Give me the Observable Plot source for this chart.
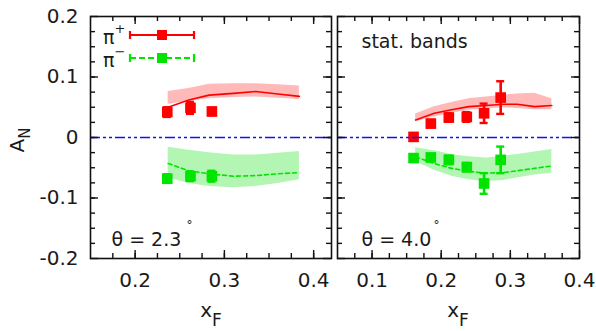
<!DOCTYPE html>
<html><head><meta charset="utf-8">
<script src="https://cdn.jsdelivr.net/npm/d3@7"></script>
<script src="https://cdn.jsdelivr.net/npm/@observablehq/plot@0.6"></script>
<style>
body{margin:0;background:#fff;}
#wrap{position:relative;width:596px;height:331px;font-family:"DejaVu Sans",sans-serif;overflow:hidden;}
#wrap svg{position:absolute;top:0;}
</style></head><body><div id="wrap"></div>
<script>
// ---------- data: panel θ = 2.3° ----------
const L_ptX   = [0.236, 0.262, 0.286];
const L_pipY  = [0.042, 0.049, 0.043];
const L_pipE  = [0.008, 0.010, 0.006];
const L_pimY  = [-0.068, -0.064, -0.064];
const L_pimE  = [0.007, 0.008, 0.009];
const L_cX      = [0.237, 0.26, 0.283, 0.31, 0.335, 0.36, 0.384];
const L_pipLine = [0.050, 0.062, 0.070, 0.073, 0.076, 0.072, 0.068];
const L_pipHi   = [0.076, 0.081, 0.088, 0.089, 0.089, 0.087, 0.085];
const L_pipLo   = [0.055, 0.060, 0.064, 0.066, 0.067, 0.065, 0.063];
const L_pimLine = [-0.043, -0.055, -0.060, -0.064, -0.063, -0.060, -0.058];
const L_pimHi   = [-0.016, -0.021, -0.025, -0.029, -0.029, -0.026, -0.023];
const L_pimLo   = [-0.066, -0.076, -0.081, -0.083, -0.081, -0.076, -0.070];
// ---------- data: panel θ = 4.0° ----------
const R_ptX   = [0.160, 0.185, 0.211, 0.237, 0.262, 0.286];
const R_pipY  = [0.001, 0.023, 0.033, 0.034, 0.040, 0.066];
const R_pipE  = [0.005, 0.006, 0.007, 0.008, 0.016, 0.027];
const R_pimY  = [-0.034, -0.033, -0.037, -0.049, -0.076, -0.037];
const R_pimE  = [0.006, 0.006, 0.007, 0.007, 0.017, 0.022];
const R_cX      = [0.163, 0.19, 0.215, 0.24, 0.265, 0.29, 0.31, 0.335, 0.36];
const R_pipLine = [0.029, 0.040, 0.046, 0.051, 0.053, 0.055, 0.055, 0.051, 0.053];
const R_pipHi   = [0.039, 0.051, 0.058, 0.064, 0.067, 0.070, 0.072, 0.073, 0.064];
const R_pipLo   = [0.026, 0.034, 0.040, 0.045, 0.047, 0.049, 0.048, 0.046, 0.046];
const R_pimLine = [-0.032, -0.043, -0.051, -0.056, -0.059, -0.058, -0.055, -0.051, -0.047];
const R_pimHi   = [-0.017, -0.022, -0.028, -0.032, -0.034, -0.031, -0.028, -0.024, -0.020];
const R_pimLo   = [-0.040, -0.054, -0.064, -0.070, -0.073, -0.071, -0.067, -0.062, -0.059];
// ---------- ticks / labels ----------
const yMajor = [-0.2, -0.1, 0, 0.1, 0.2];
const yMinor = d3.range(-0.175, 0.2, 0.025);
const L_xMajor = [0.2, 0.3, 0.4];
const R_xMajor = [0.1, 0.2, 0.3, 0.4];
const L_xMinor = d3.range(0.175, 0.42, 0.025);
const R_xMinor = d3.range(0.075, 0.4, 0.025);
const L_text = "θ = 2.3";
const R_text = "θ = 4.0";
const R_note = "stat. bands";
const legendLabels = ["π", "π"];

const RED = "#ff0000", GREEN = "#00e400", RBAND = "#ffb9b9", GBAND = "#b3f6b3", BLUE = "#1010ff";
const FONT = "DejaVu Sans, sans-serif";
const H = 331, MT = 16, MB = 73;
const HF = H - MT - MB;

const zip = (xs, ...cols) => xs.map((x, i) => ({x, a: cols[0]?.[i], b: cols[1]?.[i], c: cols[2]?.[i]}));

function panel({width, ml, mr, xDomain, xMajor, xMinor, ptX, pipY, pipE, pimY, pimE, cX, pipLine, pipHi, pipLo, pimLine, pimHi, pimLo, yAxis, texts}) {
  const WF = width - ml - mr;
  const cap = (xDomain[1] - xDomain[0]) / WF * 4;
  const pip = zip(ptX, pipY, pipE), pim = zip(ptX, pimY, pimE);
  const cp = zip(cX, pipLine, pipHi, pipLo), cm = zip(cX, pimLine, pimHi, pimLo);
  const marks = [
    Plot.areaY(cp, {x: "x", y1: "c", y2: "b", fill: RBAND}),
    Plot.areaY(cm, {x: "x", y1: "c", y2: "b", fill: GBAND}),
    Plot.line(cp, {x: "x", y: "a", stroke: RED, strokeWidth: 1.6}),
    Plot.line(cm, {x: "x", y: "a", stroke: GREEN, strokeWidth: 1.6, strokeDasharray: "4,3"}),
  ];
  for (const [d, col] of [[pip, RED], [pim, GREEN]]) {
    marks.push(
      Plot.ruleX(d, {x: "x", y1: q => q.a - q.b, y2: q => q.a + q.b, stroke: col, strokeWidth: 2.6}),
      Plot.ruleY(d, {y: q => q.a - q.b, x1: q => q.x - cap, x2: q => q.x + cap, stroke: col, strokeWidth: 2.4}),
      Plot.ruleY(d, {y: q => q.a + q.b, x1: q => q.x - cap, x2: q => q.x + cap, stroke: col, strokeWidth: 2.4}),
      Plot.dot(d, {x: "x", y: "a", symbol: "square", r: 6, fill: col, stroke: null})
    );
  }
  marks.push(
    Plot.ruleY([0], {stroke: BLUE, strokeWidth: 1.7, strokeDasharray: "10,3,3,3,3,3"}),
    Plot.tickX(xMajor, {x: d => d, insetTop: HF - 8, stroke: "#111", strokeWidth: 1.4}),
    Plot.tickX(xMajor, {x: d => d, insetBottom: HF - 8, stroke: "#111", strokeWidth: 1.4}),
    Plot.tickX(xMinor, {x: d => d, insetTop: HF - 5, stroke: "#111", strokeWidth: 1.4}),
    Plot.tickX(xMinor, {x: d => d, insetBottom: HF - 5, stroke: "#111", strokeWidth: 1.4}),
    Plot.tickY(yMajor, {y: d => d, insetRight: WF - 8, stroke: "#111", strokeWidth: 1.4}),
    Plot.tickY(yMajor, {y: d => d, insetLeft: WF - 8, stroke: "#111", strokeWidth: 1.4}),
    Plot.tickY(yMinor, {y: d => d, insetRight: WF - 5, stroke: "#111", strokeWidth: 1.4}),
    Plot.tickY(yMinor, {y: d => d, insetLeft: WF - 5, stroke: "#111", strokeWidth: 1.4}),
    Plot.frame({stroke: "#111", strokeWidth: 1.6}),
    Plot.axisX({ticks: xMajor, tickSize: 0, tickPadding: 14, tickFormat: d => d.toFixed(1), label: null, fontSize: 20, fill: "#1a1a1a"})
  );
  if (yAxis) marks.push(Plot.axisY({ticks: yMajor, tickSize: 0, tickPadding: 12, tickFormat: d => d === 0 ? "0" : d.toFixed(1), label: null, fontSize: 20, fill: "#1a1a1a"}));
  for (const t of texts) marks.push(Plot.text([t.s], {frameAnchor: t.anchor, text: d => d, dx: t.dx, dy: t.dy, fontSize: t.size, textAnchor: "start", lineAnchor: "middle", fill: "#1a1a1a"}));
  return Plot.plot({
    width, height: H, marginTop: MT, marginBottom: MB, marginLeft: ml, marginRight: mr,
    x: {domain: xDomain, axis: null},
    y: {domain: [-0.2, 0.2], axis: null},
    style: {fontFamily: FONT, fontSize: "19px", background: "transparent", overflow: "visible"},
    marks
  });
}

const wrap = document.getElementById("wrap");
const left = panel({width: 335, ml: 90, mr: 4, xDomain: [0.15, 0.42], xMajor: L_xMajor, xMinor: L_xMinor,
  ptX: L_ptX, pipY: L_pipY, pipE: L_pipE, pimY: L_pimY, pimE: L_pimE,
  cX: L_cX, pipLine: L_pipLine, pipHi: L_pipHi, pipLo: L_pipLo, pimLine: L_pimLine, pimHi: L_pimHi, pimLo: L_pimLo,
  yAxis: true,
  texts: [{s: L_text, anchor: "bottom-left", dx: 21, dy: -19, size: 19}, {s: "°", anchor: "bottom-left", dx: 96, dy: -33, size: 12}]});
left.style.left = "0px";
const right = panel({width: 261, ml: 2, mr: 17, xDomain: [0.05, 0.4], xMajor: R_xMajor, xMinor: R_xMinor,
  ptX: R_ptX, pipY: R_pipY, pipE: R_pipE, pimY: R_pimY, pimE: R_pimE,
  cX: R_cX, pipLine: R_pipLine, pipHi: R_pipHi, pipLo: R_pipLo, pimLine: R_pimLine, pimHi: R_pimHi, pimLo: R_pimLo,
  yAxis: false,
  texts: [{s: R_text, anchor: "bottom-left", dx: 24, dy: -19, size: 19}, {s: "°", anchor: "bottom-left", dx: 96, dy: -33, size: 12},
          {s: R_note, anchor: "top-left", dx: 24, dy: 25, size: 19}]});
right.style.left = "335px";
wrap.appendChild(left);
wrap.appendChild(right);

// overlay: axis titles and key
const ov = d3.select(wrap).append("svg").attr("width", 596).attr("height", 331).style("left", "0px")
  .attr("font-family", FONT).attr("fill", "#1a1a1a");
// y title A_N
const yt = ov.append("text").attr("transform", "translate(24,140) rotate(-90)").attr("text-anchor", "middle").attr("font-size", 20);
yt.append("tspan").text("A");
yt.append("tspan").attr("font-size", 15).attr("dy", 6).text("N");
// x titles x_F
for (const cx of [211, 458]) {
  const t = ov.append("text").attr("x", cx).attr("y", 317).attr("text-anchor", "middle").attr("font-size", 20);
  t.append("tspan").text("x");
  t.append("tspan").attr("font-size", 17).attr("dy", 9).text("F");
}
// key
const keyRows = [{y: 35, col: RED, dash: null, sup: "+"}, {y: 58, col: GREEN, dash: "6,3", sup: "−"}];
keyRows.forEach((k, i) => {
  const t = ov.append("text").attr("x", 103).attr("y", k.y + 9).attr("font-size", 19);
  t.append("tspan").text(legendLabels[i]);
  t.append("tspan").attr("font-size", 13).attr("dy", -11).text(k.sup);
  const g = ov.append("g").attr("stroke", k.col).attr("stroke-width", 2.2);
  g.append("line").attr("x1", 130).attr("x2", 194).attr("y1", k.y).attr("y2", k.y).attr("stroke-dasharray", k.dash);
  g.append("line").attr("x1", 130).attr("x2", 130).attr("y1", k.y - 4).attr("y2", k.y + 4);
  g.append("line").attr("x1", 194).attr("x2", 194).attr("y1", k.y - 4).attr("y2", k.y + 4);
  ov.append("rect").attr("x", 157).attr("y", k.y - 5).attr("width", 10).attr("height", 10).attr("fill", k.col);
});
</script></body></html>
